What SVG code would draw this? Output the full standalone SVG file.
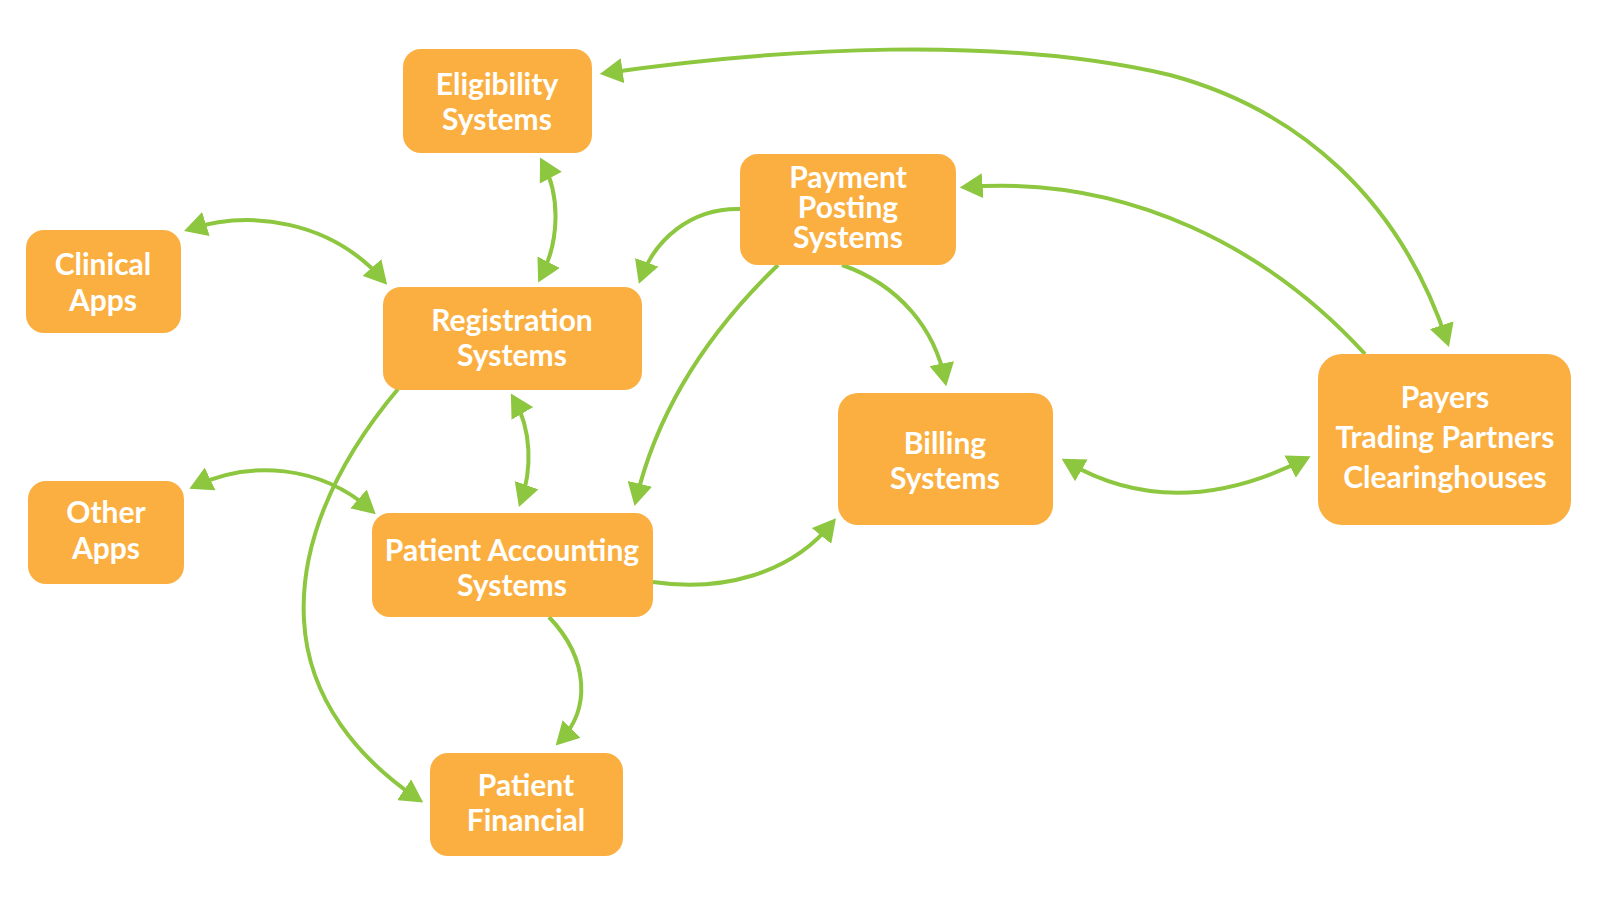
<svg xmlns="http://www.w3.org/2000/svg" width="1600" height="914" viewBox="0 0 1600 914">
<style>
.box{fill:#FBAF41;}
.lbl{font-family:Lato,"Liberation Sans",sans-serif;font-weight:bold;font-size:30px;fill:#ffffff;text-anchor:middle;}
.c{fill:none;stroke:#8DC63F;stroke-width:4;}
</style>
<defs>
<marker id="ah" viewBox="0 0 22 24" refX="16" refY="12" markerWidth="23" markerHeight="25" markerUnits="userSpaceOnUse" orient="auto-start-reverse">
<path d="M0,0 L22,12 L0,24 Z" fill="#8DC63F"/>
</marker>
</defs>
<rect width="1600" height="914" fill="#ffffff"/>
<g id="connectors">
<path class="c" d="M606,73 C780,48 1000,35 1170,75 C1300,110 1400,200 1447,341" marker-start="url(#ah)" marker-end="url(#ah)"/>
<path class="c" d="M1365,354 C1270,250 1130,175 966,187" marker-end="url(#ah)"/>
<path class="c" d="M1067,462 Q1175,525 1305,459" marker-start="url(#ah)" marker-end="url(#ah)"/>
<path class="c" d="M842,265 C900,285 935,330 945,380" marker-end="url(#ah)"/>
<path class="c" d="M740,209 C690,208 655,240 641,278" marker-end="url(#ah)"/>
<path class="c" d="M778,265 C700,340 655,420 636,500" marker-end="url(#ah)"/>
<path class="c" d="M543,163 C560,195 560,240 541,277" marker-start="url(#ah)" marker-end="url(#ah)"/>
<path class="c" d="M190,229 C250,210 330,220 383,280" marker-start="url(#ah)" marker-end="url(#ah)"/>
<path class="c" d="M195,486 C250,460 320,465 371,510" marker-start="url(#ah)" marker-end="url(#ah)"/>
<path class="c" d="M514,399 C532,430 532,470 521,501" marker-start="url(#ah)" marker-end="url(#ah)"/>
<path class="c" d="M398,389 C330,470 300,550 304,620 C308,700 360,760 418,799" marker-end="url(#ah)"/>
<path class="c" d="M653,582 C720,592 790,575 832,523" marker-end="url(#ah)"/>
<path class="c" d="M549,617 C590,660 590,710 560,741" marker-end="url(#ah)"/>
</g>
<g id="eligibility">
<rect class="box" x="403" y="49" width="189" height="104" rx="18"/>
<text class="lbl" x="497" y="95">Eligibility</text>
<text class="lbl" x="497" y="130">Systems</text>
</g>
<g id="payment-posting">
<rect class="box" x="740" y="154" width="216" height="111" rx="18"/>
<text class="lbl" x="848" y="188">Payment</text>
<text class="lbl" x="848" y="218">Posting</text>
<text class="lbl" x="848" y="248">Systems</text>
</g>
<g id="clinical-apps">
<rect class="box" x="26" y="230" width="155" height="103" rx="18"/>
<text class="lbl" x="103" y="275">Clinical</text>
<text class="lbl" x="103" y="311">Apps</text>
</g>
<g id="registration">
<rect class="box" x="383" y="287" width="259" height="103" rx="18"/>
<text class="lbl" x="512" y="331">Registration</text>
<text class="lbl" x="512" y="366">Systems</text>
</g>
<g id="billing">
<rect class="box" x="838" y="393" width="215" height="132" rx="20"/>
<text class="lbl" x="945" y="454">Billing</text>
<text class="lbl" x="945" y="489">Systems</text>
</g>
<g id="payers">
<rect class="box" x="1318" y="354" width="253" height="171" rx="24"/>
<text class="lbl" x="1445" y="408">Payers</text>
<text class="lbl" x="1445" y="448">Trading Partners</text>
<text class="lbl" x="1445" y="488">Clearinghouses</text>
</g>
<g id="other-apps">
<rect class="box" x="28" y="481" width="156" height="103" rx="18"/>
<text class="lbl" x="106" y="523">Other</text>
<text class="lbl" x="106" y="559">Apps</text>
</g>
<g id="patient-accounting">
<rect class="box" x="372" y="513" width="281" height="104" rx="18"/>
<text class="lbl" x="512" y="561">Patient Accounting</text>
<text class="lbl" x="512" y="596">Systems</text>
</g>
<g id="patient-financial">
<rect class="box" x="430" y="753" width="193" height="103" rx="18"/>
<text class="lbl" x="526" y="796">Patient</text>
<text class="lbl" x="526" y="831">Financial</text>
</g>
</svg>
